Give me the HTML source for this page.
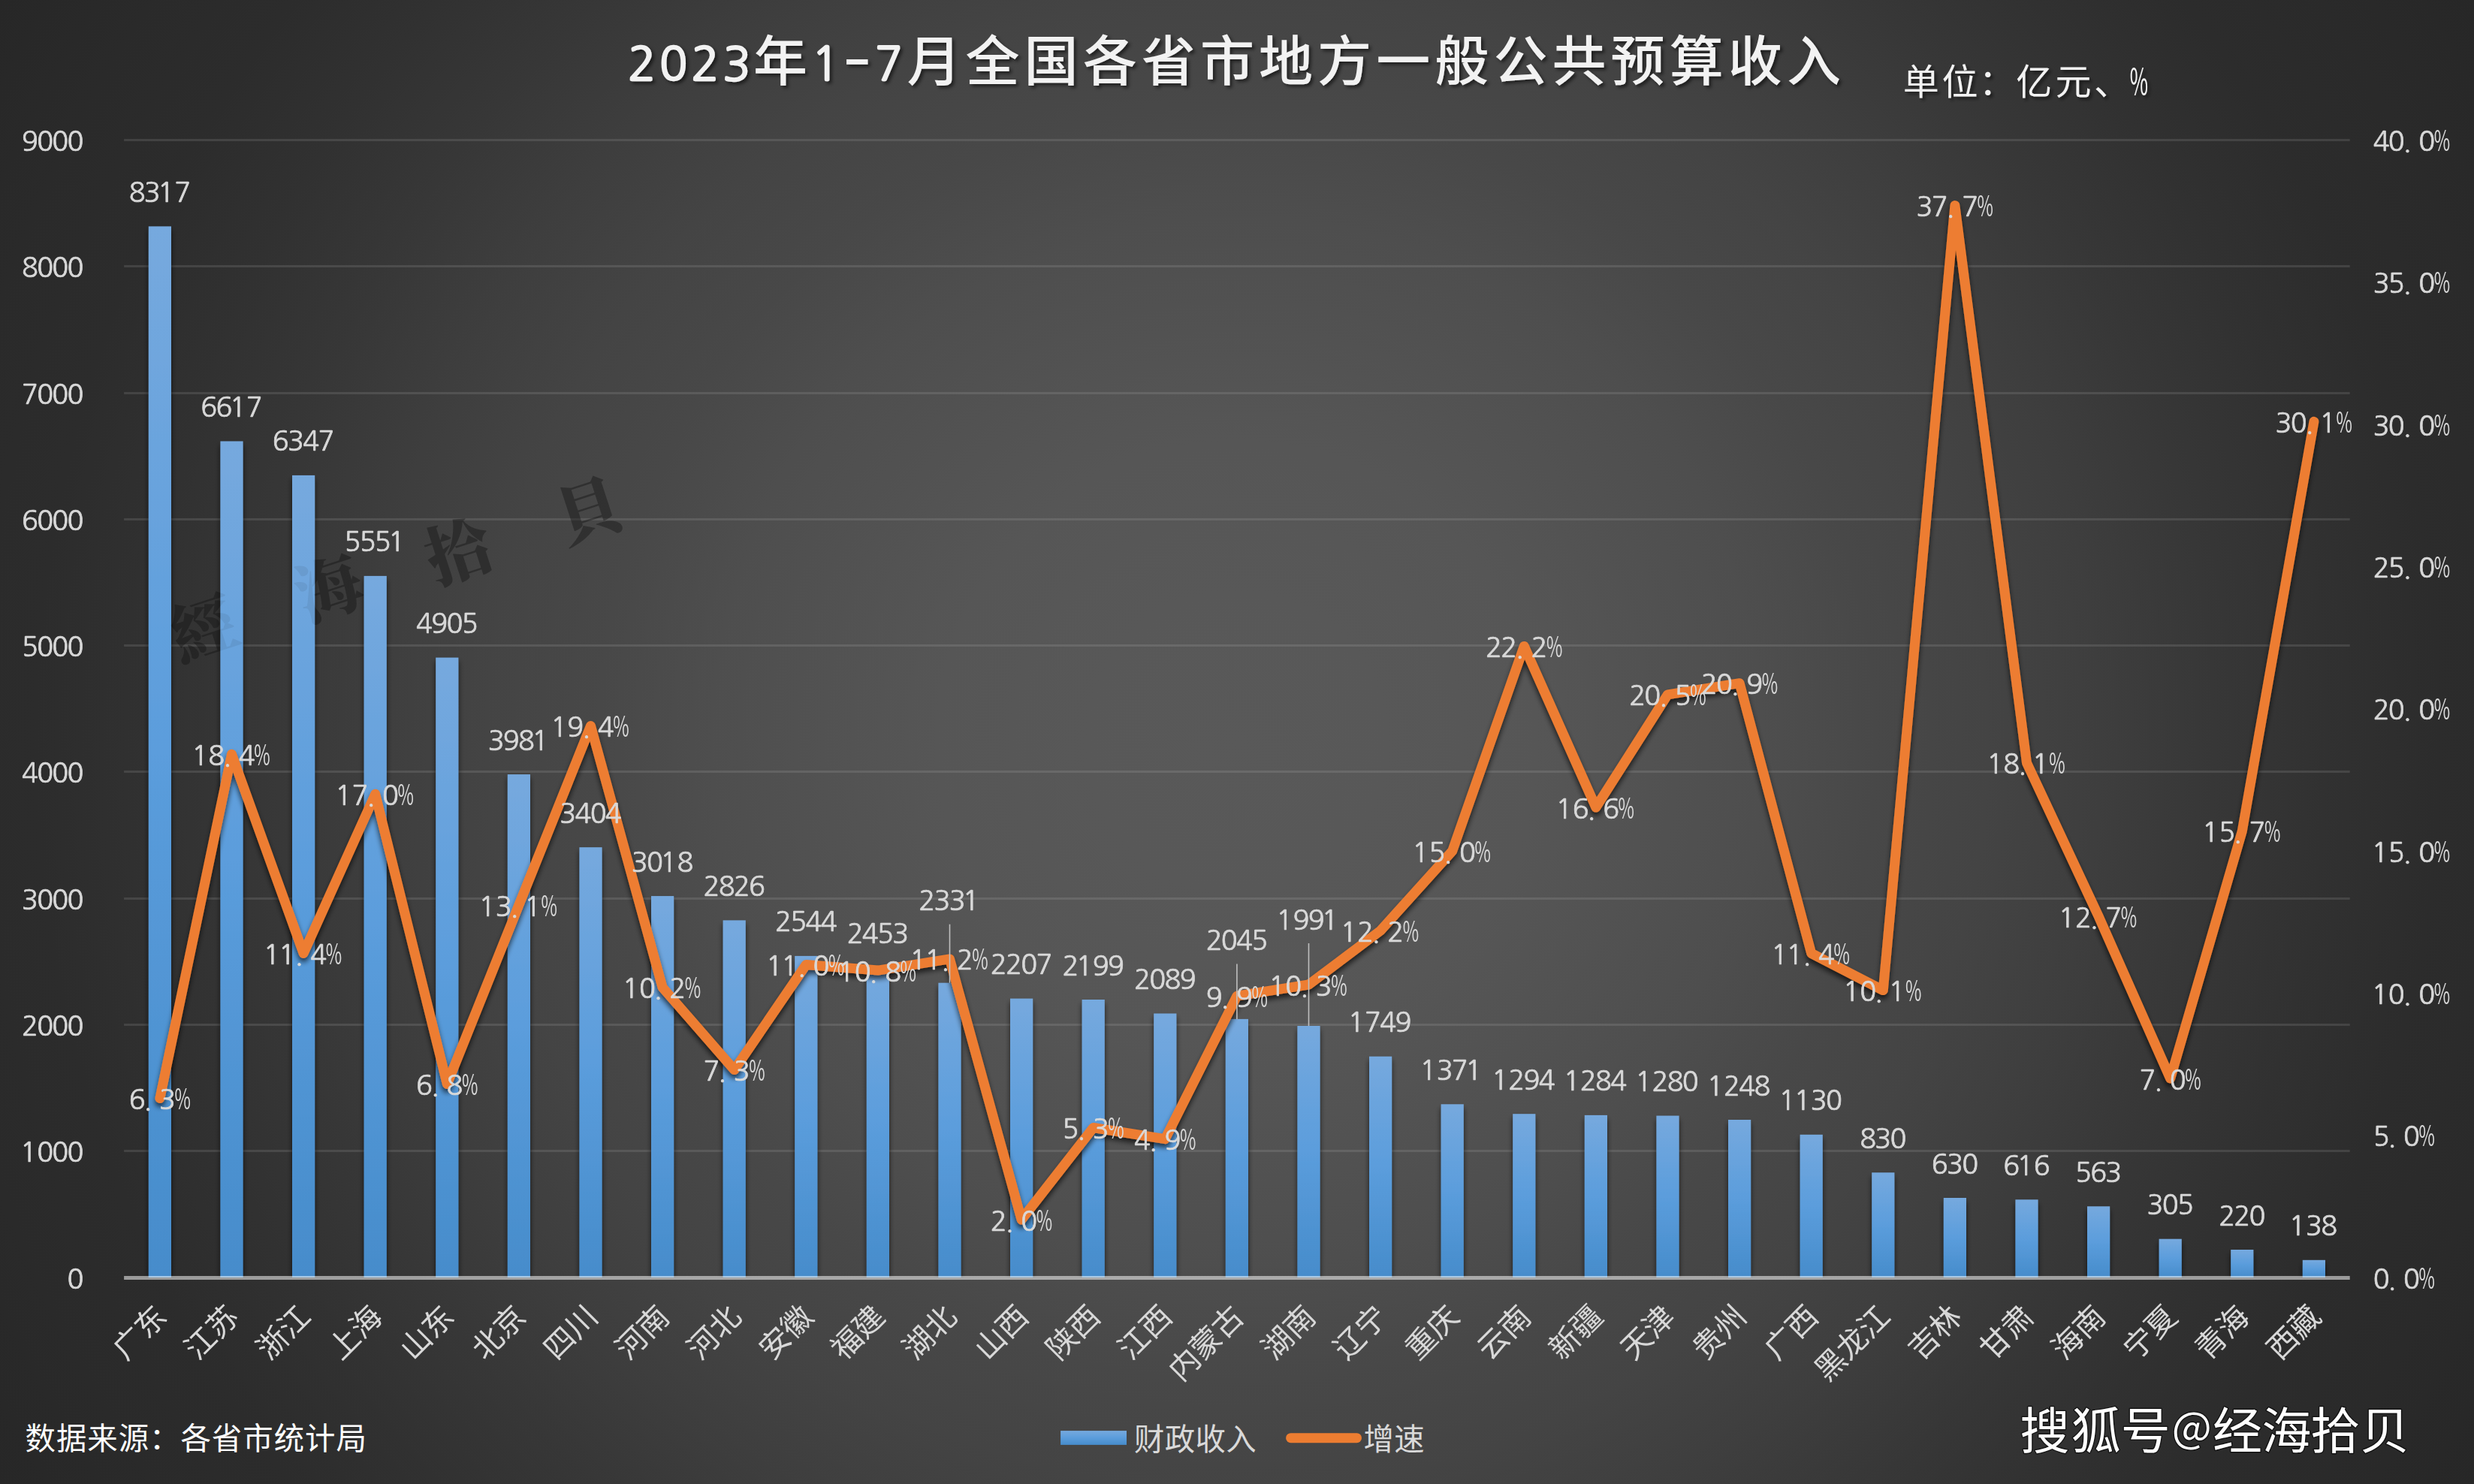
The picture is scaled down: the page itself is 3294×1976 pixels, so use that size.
<!DOCTYPE html>
<html lang="zh-CN"><head><meta charset="utf-8">
<title>2023年1-7月全国各省市地方一般公共预算收入</title>
<style>
html,body{margin:0;padding:0;background:#262626;}
body{width:3294px;height:1976px;overflow:hidden;}
svg{display:block;}
text{font-family:"Noto Sans CJK SC","Liberation Sans",sans-serif;}
.lb{font-family:"NanumGothic","Noto Sans CJK SC","Liberation Sans",sans-serif;font-size:36.2px;fill:#d9d9d9;stroke:#d9d9d9;stroke-width:0.7px;text-anchor:middle;}
.pc{font-family:"Noto Sans CJK SC","Liberation Sans",sans-serif;font-size:37.5px;fill:#d9d9d9;text-anchor:middle;}
.ax{font-family:"NanumGothic","Noto Sans CJK SC","Liberation Sans",sans-serif;font-size:36.2px;fill:#d9d9d9;stroke:#d9d9d9;stroke-width:0.7px;text-anchor:middle;}
.cat{font-family:"Noto Sans CJK SC","Liberation Sans",sans-serif;font-size:40.4px;fill:#d9d9d9;text-anchor:end;}
.leg{font-family:"Noto Sans CJK SC","Liberation Sans",sans-serif;font-size:40.4px;fill:#d9d9d9;}
.src{font-family:"Noto Sans CJK SC","Liberation Sans",sans-serif;font-size:40.4px;fill:#ffffff;letter-spacing:1px;}
.ttl{font-family:"Noto Sans CJK SC","Liberation Sans",sans-serif;font-size:72px;font-weight:500;fill:#f2f2f2;text-anchor:middle;}
.unit{font-family:"Noto Sans CJK SC","Liberation Sans",sans-serif;font-size:48px;fill:#f2f2f2;text-anchor:middle;}
.sohu{font-family:"Noto Sans CJK SC","Liberation Sans",sans-serif;font-size:66px;fill:#ffffff;text-anchor:middle;}
.wm{font-family:"Noto Serif CJK SC","Noto Sans CJK SC",serif;font-weight:900;font-size:88px;fill:#141414;text-anchor:middle;}
</style></head><body>
<svg width="3294" height="1976" viewBox="0 0 3294 1976">
<defs>
<radialGradient id="bg" gradientUnits="userSpaceOnUse" cx="1647" cy="988" r="1920.6"><stop offset="0.0000" stop-color="#595959"/><stop offset="0.1041" stop-color="#585858"/><stop offset="0.2083" stop-color="#565656"/><stop offset="0.2864" stop-color="#525252"/><stop offset="0.3645" stop-color="#4e4e4e"/><stop offset="0.4426" stop-color="#484848"/><stop offset="0.5207" stop-color="#444444"/><stop offset="0.5988" stop-color="#3e3e3e"/><stop offset="0.6769" stop-color="#373737"/><stop offset="0.7550" stop-color="#313131"/><stop offset="0.8331" stop-color="#2c2c2c"/><stop offset="0.9112" stop-color="#2a2a2a"/><stop offset="1.0000" stop-color="#272727"/></radialGradient>
<linearGradient id="bar" x1="0" y1="0" x2="0" y2="1"><stop offset="0" stop-color="#76a9de"/><stop offset="0.5" stop-color="#5b9ddc"/><stop offset="1" stop-color="#468ccb"/></linearGradient>
<filter id="shl" x="0" y="0" width="3294" height="1976" filterUnits="userSpaceOnUse"><feGaussianBlur in="SourceAlpha" stdDeviation="3.6"/><feOffset dx="0" dy="5"/><feComponentTransfer><feFuncA type="linear" slope="0.66"/></feComponentTransfer><feMerge><feMergeNode/><feMergeNode in="SourceGraphic"/></feMerge></filter>
<filter id="tsh" x="0" y="0" width="3294" height="1976" filterUnits="userSpaceOnUse"><feGaussianBlur in="SourceAlpha" stdDeviation="2.2"/><feOffset dx="3" dy="3"/><feComponentTransfer><feFuncA type="linear" slope="0.55"/></feComponentTransfer><feMerge><feMergeNode/><feMergeNode in="SourceGraphic"/></feMerge></filter>
<clipPath id="clipbars"><rect x="0" y="0" width="3294" height="1701"/></clipPath>
</defs>
<rect x="0" y="0" width="3294" height="1976" fill="url(#bg)"/>
<g stroke="#d9d9d9" stroke-opacity="0.135" stroke-width="3">
<line x1="165.1" y1="1532.5" x2="3128.7" y2="1532.5"/>
<line x1="165.1" y1="1364.5" x2="3128.7" y2="1364.5"/>
<line x1="165.1" y1="1196.5" x2="3128.7" y2="1196.5"/>
<line x1="165.1" y1="1027.5" x2="3128.7" y2="1027.5"/>
<line x1="165.1" y1="859.5" x2="3128.7" y2="859.5"/>
<line x1="165.1" y1="691.5" x2="3128.7" y2="691.5"/>
<line x1="165.1" y1="523.5" x2="3128.7" y2="523.5"/>
<line x1="165.1" y1="354.5" x2="3128.7" y2="354.5"/>
<line x1="165.1" y1="186.5" x2="3128.7" y2="186.5"/>
</g>
<g fill-opacity="0.36"><text class="wm" transform="translate(271.7 838.6) rotate(-18)" y="31">經</text><text class="wm" transform="translate(438.2 784.8) rotate(-18)" y="31">海</text><text class="wm" transform="translate(611.3 735.3) rotate(-18)" y="31">拾</text><text class="wm" transform="translate(783.9 680.9) rotate(-18)" y="31">貝</text></g>
<g fill="url(#bar)" filter="url(#shl)" clip-path="url(#clipbars)">
<rect x="197.8" y="301.4" width="30.2" height="1399.6"/>
<rect x="293.4" y="587.5" width="30.2" height="1113.5"/>
<rect x="389" y="632.9" width="30.2" height="1068.1"/>
<rect x="484.6" y="766.9" width="30.2" height="934.1"/>
<rect x="580.2" y="875.6" width="30.2" height="825.4"/>
<rect x="675.8" y="1031.1" width="30.2" height="669.9"/>
<rect x="771.4" y="1128.2" width="30.2" height="572.8"/>
<rect x="867" y="1193.1" width="30.2" height="507.9"/>
<rect x="962.6" y="1225.4" width="30.2" height="475.6"/>
<rect x="1058.2" y="1272.9" width="30.2" height="428.1"/>
<rect x="1153.8" y="1288.2" width="30.2" height="412.8"/>
<rect x="1249.4" y="1308.7" width="30.2" height="392.3"/>
<rect x="1345" y="1329.6" width="30.2" height="371.4"/>
<rect x="1440.6" y="1331" width="30.2" height="370"/>
<rect x="1536.2" y="1349.5" width="30.2" height="351.5"/>
<rect x="1631.8" y="1356.9" width="30.2" height="344.1"/>
<rect x="1727.4" y="1366" width="30.2" height="335"/>
<rect x="1823" y="1406.7" width="30.2" height="294.3"/>
<rect x="1918.6" y="1470.3" width="30.2" height="230.7"/>
<rect x="2014.2" y="1483.2" width="30.2" height="217.8"/>
<rect x="2109.8" y="1484.9" width="30.2" height="216.1"/>
<rect x="2205.4" y="1485.6" width="30.2" height="215.4"/>
<rect x="2301" y="1491" width="30.2" height="210"/>
<rect x="2396.6" y="1510.8" width="30.2" height="190.2"/>
<rect x="2492.2" y="1561.3" width="30.2" height="139.7"/>
<rect x="2587.8" y="1595" width="30.2" height="106"/>
<rect x="2683.4" y="1597.3" width="30.2" height="103.7"/>
<rect x="2779" y="1606.3" width="30.2" height="94.7"/>
<rect x="2874.6" y="1649.7" width="30.2" height="51.3"/>
<rect x="2970.2" y="1664" width="30.2" height="37"/>
<rect x="3065.8" y="1677.8" width="30.2" height="23.2"/>
</g>
<line x1="165.1" y1="1701.5" x2="3128.7" y2="1701.5" stroke="#ffffff" stroke-opacity="0.53" stroke-width="5"/>
<polyline points="212.9,1462.5 308.5,1004.3 404.1,1269.4 499.7,1057.3 595.3,1443.5 690.9,1205 786.5,966.5 882.1,1314.8 977.7,1424.6 1073.3,1284.5 1168.9,1292.1 1264.5,1276.9 1360.1,1624.1 1455.7,1501.5 1551.3,1516.6 1646.9,1326.2 1742.5,1311 1838.1,1239.1 1933.7,1133.1 2029.3,860.4 2124.9,1075.1 2220.5,924.8 2316.1,909.7 2411.7,1269.4 2507.3,1318.6 2602.9,273.6 2698.5,1015.7 2794.1,1220.1 2889.7,1436 2985.3,1106.6 3080.9,561.3" fill="none" stroke="#ed7d31" stroke-width="13" stroke-linejoin="round" stroke-linecap="round" filter="url(#shl)"/>
<g fill-opacity="0.07"><text class="wm" transform="translate(271.7 838.6) rotate(-18)" y="31">經</text><text class="wm" transform="translate(438.2 784.8) rotate(-18)" y="31">海</text><text class="wm" transform="translate(611.3 735.3) rotate(-18)" y="31">拾</text><text class="wm" transform="translate(783.9 680.9) rotate(-18)" y="31">貝</text></g>
<g stroke="#bfbfbf" stroke-width="1.6">
<line x1="1264.5" y1="1230.7" x2="1264.5" y2="1308.7"/>
<line x1="1646.9" y1="1283.4" x2="1646.9" y2="1356.9"/>
<line x1="1742.5" y1="1256" x2="1742.5" y2="1366"/>
</g>
<g opacity="0.999">
<text class="lb" x="182.6 202.8 221 243.2" y="268.9">8317</text>
<text class="lb" x="278.2 298.4 316.6 338.8" y="555">6617</text>
<text class="lb" x="373.8 394 414.2 434.4" y="600.4">6347</text>
<text class="lb" x="469.4 489.6 509.8 528" y="734.4">5551</text>
<text class="lb" x="565 585.2 605.4 625.6" y="843.1">4905</text>
<text class="lb" x="660.6 680.8 701 719.2" y="998.6">3981</text>
<text class="lb" x="756.2 776.4 796.6 816.8" y="1095.7">3404</text>
<text class="lb" x="851.8 872 890.2 912.4" y="1160.6">3018</text>
<text class="lb" x="947.4 967.6 987.8 1008" y="1192.9">2826</text>
<text class="lb" x="1043 1063.2 1083.4 1103.6" y="1240.4">2544</text>
<text class="lb" x="1138.6 1158.8 1179 1199.2" y="1255.7">2453</text>
<text class="lb" x="1234.2 1254.4 1274.6 1292.8" y="1212.2">2331</text>
<text class="lb" x="1329.8 1350 1370.2 1390.4" y="1297.1">2207</text>
<text class="lb" x="1425.4 1443.6 1465.8 1486" y="1298.5">2199</text>
<text class="lb" x="1521 1541.2 1561.4 1581.6" y="1317">2089</text>
<text class="lb" x="1616.6 1636.8 1657 1677.2" y="1264.9">2045</text>
<text class="lb" x="1710.2 1732.4 1752.6 1770.8" y="1237.5">1991</text>
<text class="lb" x="1805.8 1828 1848.2 1868.4" y="1374.2">1749</text>
<text class="lb" x="1901.4 1923.6 1943.8 1962" y="1437.8">1371</text>
<text class="lb" x="1997 2019.2 2039.4 2059.6" y="1450.7">1294</text>
<text class="lb" x="2092.6 2114.8 2135 2155.2" y="1452.4">1284</text>
<text class="lb" x="2188.2 2210.4 2230.6 2250.8" y="1453.1">1280</text>
<text class="lb" x="2283.8 2306 2326.2 2346.4" y="1458.5">1248</text>
<text class="lb" x="2379.4 2399.6 2421.8 2442" y="1478.3">1130</text>
<text class="lb" x="2487.1 2507.3 2527.5" y="1528.8">830</text>
<text class="lb" x="2582.7 2602.9 2623.1" y="1562.5">630</text>
<text class="lb" x="2678.3 2696.5 2718.7" y="1564.8">616</text>
<text class="lb" x="2773.9 2794.1 2814.3" y="1573.8">563</text>
<text class="lb" x="2869.5 2889.7 2909.9" y="1617.2">305</text>
<text class="lb" x="2965.1 2985.3 3005.5" y="1631.5">220</text>
<text class="lb" x="3058.7 3080.9 3101.1" y="1645.3">138</text>
<text class="lb" x="182.6 197 223" y="1477">6.3</text><text class="pc" transform="translate(243.2 1477) scale(0.62 1)">%</text>
<text class="lb" x="266.1 288.3 302.7 328.7" y="1018.8">18.4</text><text class="pc" transform="translate(348.9 1018.8) scale(0.62 1)">%</text>
<text class="lb" x="361.7 381.9 398.3 424.3" y="1283.9">11.4</text><text class="pc" transform="translate(444.5 1283.9) scale(0.62 1)">%</text>
<text class="lb" x="457.3 479.5 493.9 519.9" y="1071.8">17.0</text><text class="pc" transform="translate(540.1 1071.8) scale(0.62 1)">%</text>
<text class="lb" x="565 579.4 605.4" y="1458">6.8</text><text class="pc" transform="translate(625.6 1458) scale(0.62 1)">%</text>
<text class="lb" x="648.5 670.7 685.1 709.1" y="1219.5">13.1</text><text class="pc" transform="translate(731.3 1219.5) scale(0.62 1)">%</text>
<text class="lb" x="744.1 766.3 780.7 806.7" y="981">19.4</text><text class="pc" transform="translate(826.9 981) scale(0.62 1)">%</text>
<text class="lb" x="839.7 861.9 876.3 902.3" y="1329.3">10.2</text><text class="pc" transform="translate(922.5 1329.3) scale(0.62 1)">%</text>
<text class="lb" x="947.4 961.8 987.8" y="1439.1">7.3</text><text class="pc" transform="translate(1008 1439.1) scale(0.62 1)">%</text>
<text class="lb" x="1030.9 1051.1 1067.5 1093.5" y="1299">11.0</text><text class="pc" transform="translate(1113.7 1299) scale(0.62 1)">%</text>
<text class="lb" x="1126.5 1148.7 1163.1 1189.1" y="1306.6">10.8</text><text class="pc" transform="translate(1209.3 1306.6) scale(0.62 1)">%</text>
<text class="lb" x="1222.1 1242.3 1258.7 1284.7" y="1291.4">11.2</text><text class="pc" transform="translate(1304.9 1291.4) scale(0.62 1)">%</text>
<text class="lb" x="1329.8 1344.2 1370.2" y="1638.6">2.0</text><text class="pc" transform="translate(1390.4 1638.6) scale(0.62 1)">%</text>
<text class="lb" x="1425.4 1439.8 1465.8" y="1516">5.3</text><text class="pc" transform="translate(1486 1516) scale(0.62 1)">%</text>
<text class="lb" x="1521 1535.4 1561.4" y="1531.1">4.9</text><text class="pc" transform="translate(1581.6 1531.1) scale(0.62 1)">%</text>
<text class="lb" x="1616.6 1631 1657" y="1340.7">9.9</text><text class="pc" transform="translate(1677.2 1340.7) scale(0.62 1)">%</text>
<text class="lb" x="1700.1 1722.3 1736.7 1762.7" y="1325.5">10.3</text><text class="pc" transform="translate(1782.9 1325.5) scale(0.62 1)">%</text>
<text class="lb" x="1795.7 1817.9 1832.3 1858.3" y="1253.6">12.2</text><text class="pc" transform="translate(1878.5 1253.6) scale(0.62 1)">%</text>
<text class="lb" x="1891.3 1913.5 1927.9 1953.9" y="1147.6">15.0</text><text class="pc" transform="translate(1974.1 1147.6) scale(0.62 1)">%</text>
<text class="lb" x="1988.9 2009.1 2023.5 2049.5" y="874.9">22.2</text><text class="pc" transform="translate(2069.7 874.9) scale(0.62 1)">%</text>
<text class="lb" x="2082.5 2104.7 2119.1 2145.1" y="1089.6">16.6</text><text class="pc" transform="translate(2165.3 1089.6) scale(0.62 1)">%</text>
<text class="lb" x="2180.1 2200.3 2214.7 2240.7" y="939.3">20.5</text><text class="pc" transform="translate(2260.9 939.3) scale(0.62 1)">%</text>
<text class="lb" x="2275.7 2295.9 2310.3 2336.3" y="924.2">20.9</text><text class="pc" transform="translate(2356.5 924.2) scale(0.62 1)">%</text>
<text class="lb" x="2369.3 2389.5 2405.9 2431.9" y="1283.9">11.4</text><text class="pc" transform="translate(2452.1 1283.9) scale(0.62 1)">%</text>
<text class="lb" x="2464.9 2487.1 2501.5 2525.5" y="1333.1">10.1</text><text class="pc" transform="translate(2547.7 1333.1) scale(0.62 1)">%</text>
<text class="lb" x="2562.5 2582.7 2597.1 2623.1" y="288.1">37.7</text><text class="pc" transform="translate(2643.3 288.1) scale(0.62 1)">%</text>
<text class="lb" x="2656.1 2678.3 2692.7 2716.7" y="1030.2">18.1</text><text class="pc" transform="translate(2738.9 1030.2) scale(0.62 1)">%</text>
<text class="lb" x="2751.7 2773.9 2788.3 2814.3" y="1234.6">12.7</text><text class="pc" transform="translate(2834.5 1234.6) scale(0.62 1)">%</text>
<text class="lb" x="2859.4 2873.8 2899.8" y="1450.5">7.0</text><text class="pc" transform="translate(2920 1450.5) scale(0.62 1)">%</text>
<text class="lb" x="2942.9 2965.1 2979.5 3005.5" y="1121.1">15.7</text><text class="pc" transform="translate(3025.7 1121.1) scale(0.62 1)">%</text>
<text class="lb" x="3040.5 3060.7 3075.1 3099.1" y="575.8">30.1</text><text class="pc" transform="translate(3121.3 575.8) scale(0.62 1)">%</text>
<text class="ax" x="100.5" y="1715.5">0</text>
<text class="ax" x="37.9 60.1 80.3 100.5" y="1547.2">1000</text>
<text class="ax" x="39.9 60.1 80.3 100.5" y="1378.9">2000</text>
<text class="ax" x="39.9 60.1 80.3 100.5" y="1210.7">3000</text>
<text class="ax" x="39.9 60.1 80.3 100.5" y="1042.4">4000</text>
<text class="ax" x="39.9 60.1 80.3 100.5" y="874.1">5000</text>
<text class="ax" x="39.9 60.1 80.3 100.5" y="705.8">6000</text>
<text class="ax" x="39.9 60.1 80.3 100.5" y="537.5">7000</text>
<text class="ax" x="39.9 60.1 80.3 100.5" y="369.3">8000</text>
<text class="ax" x="39.9 60.1 80.3 100.5" y="201">9000</text>
<text class="ax" x="3170.6 3185 3211" y="1715.5">0.0</text><text class="pc" transform="translate(3231.2 1715.5) scale(0.62 1)">%</text>
<text class="ax" x="3170.6 3185 3211" y="1526.2">5.0</text><text class="pc" transform="translate(3231.2 1526.2) scale(0.62 1)">%</text>
<text class="ax" x="3168.6 3190.8 3205.2 3231.2" y="1336.9">10.0</text><text class="pc" transform="translate(3251.4 1336.9) scale(0.62 1)">%</text>
<text class="ax" x="3168.6 3190.8 3205.2 3231.2" y="1147.6">15.0</text><text class="pc" transform="translate(3251.4 1147.6) scale(0.62 1)">%</text>
<text class="ax" x="3170.6 3190.8 3205.2 3231.2" y="958.2">20.0</text><text class="pc" transform="translate(3251.4 958.2) scale(0.62 1)">%</text>
<text class="ax" x="3170.6 3190.8 3205.2 3231.2" y="768.9">25.0</text><text class="pc" transform="translate(3251.4 768.9) scale(0.62 1)">%</text>
<text class="ax" x="3170.6 3190.8 3205.2 3231.2" y="579.6">30.0</text><text class="pc" transform="translate(3251.4 579.6) scale(0.62 1)">%</text>
<text class="ax" x="3170.6 3190.8 3205.2 3231.2" y="390.3">35.0</text><text class="pc" transform="translate(3251.4 390.3) scale(0.62 1)">%</text>
<text class="ax" x="3170.6 3190.8 3205.2 3231.2" y="201">40.0</text><text class="pc" transform="translate(3251.4 201) scale(0.62 1)">%</text>
</g>
<g opacity="0.999">
<text class="cat" transform="translate(224.6 1755.6) rotate(-45)">广东</text>
<text class="cat" transform="translate(320.2 1755.6) rotate(-45)">江苏</text>
<text class="cat" transform="translate(415.8 1755.6) rotate(-45)">浙江</text>
<text class="cat" transform="translate(511.4 1755.6) rotate(-45)">上海</text>
<text class="cat" transform="translate(607 1755.6) rotate(-45)">山东</text>
<text class="cat" transform="translate(702.6 1755.6) rotate(-45)">北京</text>
<text class="cat" transform="translate(798.2 1755.6) rotate(-45)">四川</text>
<text class="cat" transform="translate(893.8 1755.6) rotate(-45)">河南</text>
<text class="cat" transform="translate(989.4 1755.6) rotate(-45)">河北</text>
<text class="cat" transform="translate(1085 1755.6) rotate(-45)">安徽</text>
<text class="cat" transform="translate(1180.6 1755.6) rotate(-45)">福建</text>
<text class="cat" transform="translate(1276.2 1755.6) rotate(-45)">湖北</text>
<text class="cat" transform="translate(1371.8 1755.6) rotate(-45)">山西</text>
<text class="cat" transform="translate(1467.4 1755.6) rotate(-45)">陕西</text>
<text class="cat" transform="translate(1563 1755.6) rotate(-45)">江西</text>
<text class="cat" transform="translate(1658.6 1755.6) rotate(-45)">内蒙古</text>
<text class="cat" transform="translate(1754.2 1755.6) rotate(-45)">湖南</text>
<text class="cat" transform="translate(1849.8 1755.6) rotate(-45)">辽宁</text>
<text class="cat" transform="translate(1945.4 1755.6) rotate(-45)">重庆</text>
<text class="cat" transform="translate(2041 1755.6) rotate(-45)">云南</text>
<text class="cat" transform="translate(2136.6 1755.6) rotate(-45)">新疆</text>
<text class="cat" transform="translate(2232.2 1755.6) rotate(-45)">天津</text>
<text class="cat" transform="translate(2327.8 1755.6) rotate(-45)">贵州</text>
<text class="cat" transform="translate(2423.4 1755.6) rotate(-45)">广西</text>
<text class="cat" transform="translate(2519 1755.6) rotate(-45)">黑龙江</text>
<text class="cat" transform="translate(2614.6 1755.6) rotate(-45)">吉林</text>
<text class="cat" transform="translate(2710.2 1755.6) rotate(-45)">甘肃</text>
<text class="cat" transform="translate(2805.8 1755.6) rotate(-45)">海南</text>
<text class="cat" transform="translate(2901.4 1755.6) rotate(-45)">宁夏</text>
<text class="cat" transform="translate(2997 1755.6) rotate(-45)">青海</text>
<text class="cat" transform="translate(3092.6 1755.6) rotate(-45)">西藏</text>
</g>
<g filter="url(#tsh)">
<text class="ttl" style="font-family:'NanumGothic','Noto Sans CJK SC','Liberation Sans',sans-serif;font-size:61.5px;stroke:#f2f2f2;stroke-width:2.3px;stroke-linejoin:round" x="854.6 896.7 938.8 980.9" y="107">2023</text>
<text class="ttl" x="1039" y="107">年</text>
<text class="ttl" style="font-family:'NanumGothic','Noto Sans CJK SC','Liberation Sans',sans-serif;font-size:61.5px;stroke:#f2f2f2;stroke-width:2.3px;stroke-linejoin:round" x="1099.1" y="107">1</text>
<text class="ttl" style="font-size:61.5px" transform="translate(1141.2 107) scale(1.75 1.3)" y="-1.8">-</text>
<text class="ttl" style="font-family:'NanumGothic','Noto Sans CJK SC','Liberation Sans',sans-serif;font-size:61.5px;stroke:#f2f2f2;stroke-width:2.3px;stroke-linejoin:round" x="1183.3" y="107">7</text>
<text class="ttl" x="1243.4 1321.5 1399.6 1477.7 1555.8 1633.9 1712 1790.1 1868.2 1946.3 2024.4 2102.5 2180.6 2258.7 2336.8 2414.9" y="107">月全国各省市地方一般公共预算收入</text>
</g>
<g filter="url(#tsh)">
<text class="unit" x="2557.8 2609.4 2658.8 2708.2 2760.4 2812" y="126">单位：亿元、</text>
<text class="unit" transform="translate(2847.8 126) scale(0.55 1)">%</text>
</g>
<text class="src" x="33.5" y="1930">数据来源：各省市统计局</text>
<rect x="1412.1" y="1905.1" width="87.9" height="18.8" fill="url(#bar)"/>
<text class="leg" x="1510" y="1931" letter-spacing="0.4">财政收入</text>
<line x1="1718.6" y1="1914.7" x2="1806.5" y2="1914.7" stroke="#ed7d31" stroke-width="13" stroke-linecap="round"/>
<text class="leg" x="1815.5" y="1931" letter-spacing="0.4">增速</text>
<g opacity="0.999">
<text class="sohu" style="paint-order:stroke;stroke:#000;stroke-opacity:0.55;stroke-width:3px;stroke-linejoin:round;" x="2722.6 2790.7 2856.8" y="1929">搜狐号</text>
<text class="sohu" style="font-size:56px;paint-order:stroke;stroke:#000;stroke-opacity:0.55;stroke-width:3px;stroke-linejoin:round;" x="2918.2" y="1921" font-size="56">@</text>
<text class="sohu" style="paint-order:stroke;stroke:#000;stroke-opacity:0.55;stroke-width:3px;stroke-linejoin:round;" x="2979 3044.4 3109.2 3175.3" y="1929">经海拾贝</text>
</g>
</svg>
</body></html>
